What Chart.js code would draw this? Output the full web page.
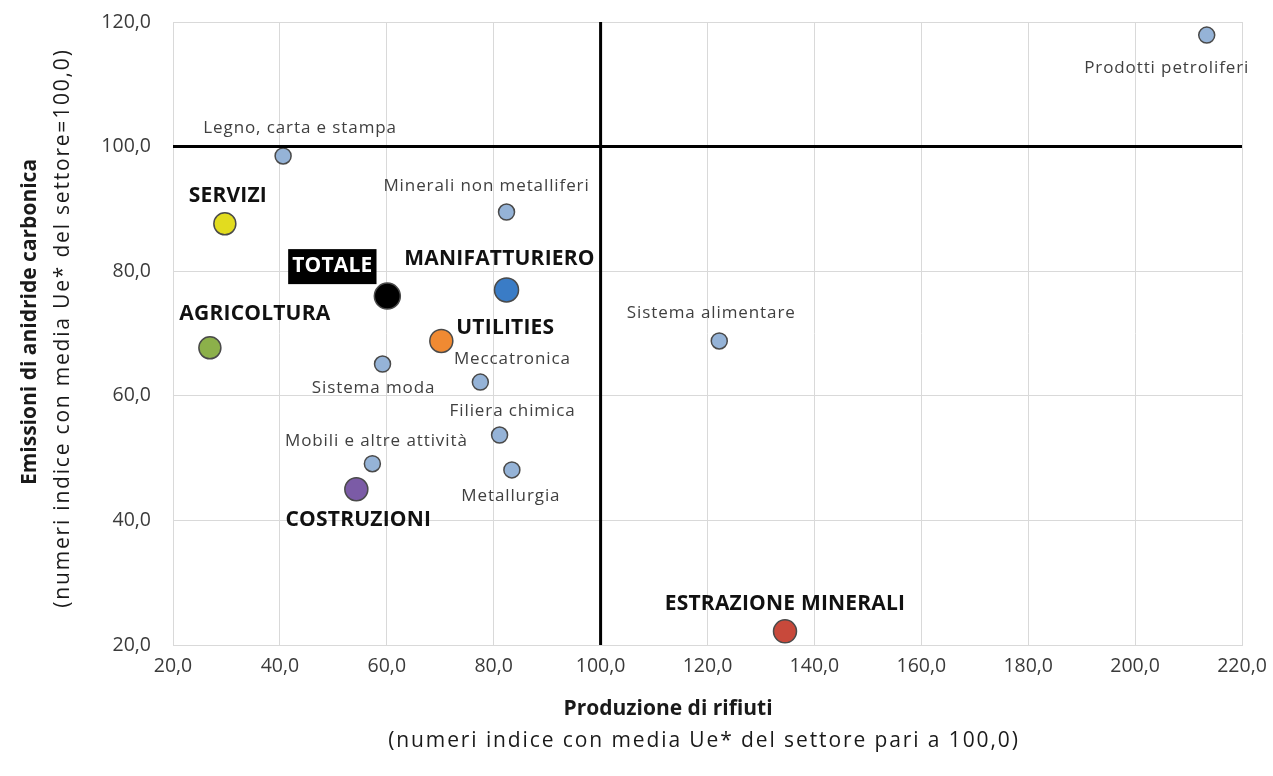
<!DOCTYPE html>
<html>
<head>
<meta charset="utf-8">
<script src="https://cdn.jsdelivr.net/npm/chart.js@4"></script>
<style>
  html, body { margin: 0; padding: 0; background: #ffffff; }
  #wrap { width: 1273px; height: 776px; }
</style>
</head>
<body>
<div id="wrap"><canvas id="c" width="1273" height="776"></canvas></div>
<script>
// ---- Data ----
const sectorNames = [
  "Prodotti petroliferi", "Legno, carta e stampa", "SERVIZI", "Minerali non metalliferi",
  "TOTALE", "MANIFATTURIERO", "AGRICOLTURA", "UTILITIES", "Sistema moda", "Meccatronica",
  "Sistema alimentare", "Filiera chimica", "Mobili e altre attività", "Metallurgia",
  "COSTRUZIONI", "ESTRAZIONE MINERALI"
];
const wasteIndex = [213.4, 40.6, 29.7, 82.4, 60.1, 82.4, 26.9, 70.2, 59.2, 77.5, 122.2, 81.1, 57.3, 83.4, 54.3, 134.5];
const emissionsIndex = [117.9, 98.5, 87.6, 89.5, 76.0, 77.0, 67.7, 68.8, 65.1, 62.2, 68.8, 53.7, 49.1, 48.1, 45.0, 22.2];
const isMacroSector = [false, false, true, false, true, true, true, true, false, false, false, false, false, false, true, true];
const axisTicks = [20, 40, 60, 80, 100, 120, 140, 160, 180, 200, 220];
const referenceValue = 100;

// ---- Styles ----
const FONT = '"Open Sans", "Noto Sans", sans-serif';
const pointColors = ["#95b3d7", "#95b3d7", "#e2dc1f", "#95b3d7", "#000000", "#3a7cc6", "#8cb04a", "#f08a32",
  "#95b3d7", "#95b3d7", "#95b3d7", "#95b3d7", "#95b3d7", "#95b3d7", "#7b5ba6", "#c8493b"];
const pointRadii = [8, 8, 11, 8, 13, 12, 11, 11.5, 8, 8, 8, 8, 8, 8, 11.5, 11.5];
const labelOffsets = [[-40,33],[17,-28],[3,-28],[-20,-26],[-55,-30],[-7,-31],[45,-34],[64,-13],
  [-9,24],[32,-23],[-8,-28],[13,-24],[4,-23],[-1,26],[2,31],[0,-27]];

const fmt = v => Number(v).toFixed(1).replace('.', ',');

const labelPlugin = {
  id: 'pointLabels',
  afterDatasetsDraw(chart) {
    const ctx = chart.ctx;
    const xs = chart.scales.x, ys = chart.scales.y;
    ctx.save();
    ctx.textAlign = 'center';
    ctx.textBaseline = 'middle';
    sectorNames.forEach((name, i) => {
      const px = xs.getPixelForValue(wasteIndex[i]) + labelOffsets[i][0];
      const py = ys.getPixelForValue(emissionsIndex[i]) + labelOffsets[i][1];
      if (isMacroSector[i]) {
        ctx.font = 'bold 21px ' + FONT;
        try { ctx.letterSpacing = '0.2px'; } catch (e) {}
        if (name === 'TOTALE') {
          const w = ctx.measureText(name).width;
          ctx.fillStyle = '#000';
          ctx.fillRect(px - w/2 - 4, py - 17, w + 8, 35);
          ctx.fillStyle = '#fff';
        } else {
          ctx.fillStyle = '#111';
        }
      } else {
        ctx.font = '17px ' + FONT;
        try { ctx.letterSpacing = '0.9px'; } catch (e) {}
        ctx.fillStyle = '#404040';
      }
      ctx.fillText(name, px, py);
    });
    ctx.restore();
  }
};

const titlePlugin = {
  id: 'axisTitles',
  afterDraw(chart) {
    const ctx = chart.ctx;
    ctx.save();
    ctx.fillStyle = '#1a1a1a';
    ctx.textAlign = 'center';
    ctx.textBaseline = 'middle';
    ctx.font = 'bold 21px ' + FONT;
    ctx.fillText('Produzione di rifiuti', 668, 709);
    ctx.font = '21px ' + FONT;
    try { ctx.letterSpacing = '1.9px'; } catch (e) {}
    ctx.fillText('(numeri indice con media Ue* del settore pari a 100,0)', 704, 741);
    try { ctx.letterSpacing = '0px'; } catch (e) {}
    ctx.translate(30, 322);
    ctx.rotate(-Math.PI/2);
    ctx.font = 'bold 21px ' + FONT;
    ctx.fillText('Emissioni di anidride carbonica', 0, 0);
    ctx.font = '21px ' + FONT;
    try { ctx.letterSpacing = '1.8px'; } catch (e) {}
    ctx.fillText('(numeri indice con media Ue* del settore=100,0)', -6, 33);
    ctx.restore();
  }
};

const points = wasteIndex.map((x, i) => ({ x, y: emissionsIndex[i] }));

new Chart(document.getElementById('c'), {
  type: 'scatter',
  data: {
    datasets: [
      {
        label: 'ref-x',
        data: [{ x: referenceValue, y: 20 }, { x: referenceValue, y: 120 }],
        showLine: true, borderColor: '#000', borderWidth: 3, pointRadius: 0
      },
      {
        label: 'ref-y',
        data: [{ x: 20, y: referenceValue }, { x: 220, y: referenceValue }],
        showLine: true, borderColor: '#000', borderWidth: 3, pointRadius: 0
      },
      {
        label: 'Settori',
        data: points,
        backgroundColor: pointColors,
        borderColor: '#4a4a4a',
        borderWidth: 1.5,
        pointRadius: pointRadii,
        pointHoverRadius: pointRadii
      }
    ]
  },
  options: {
    responsive: false,
    animation: false,
    layout: { padding: { left: 80, right: 31, top: 22, bottom: 0 } },
    plugins: { legend: { display: false }, tooltip: { enabled: false } },
    scales: {
      x: {
        type: 'linear', min: 20, max: 220,
        afterBuildTicks: s => { s.ticks = axisTicks.map(v => ({ value: v })); },
        afterFit: s => { s.height = 131; s.paddingLeft = 0; s.paddingRight = 0; },
        grid: { color: '#d9d9d9', lineWidth: 1, drawTicks: false },
        border: { display: true, color: '#d9d9d9' },
        ticks: { callback: v => fmt(v), color: '#3a3a3a', font: { size: 19.5, family: FONT }, padding: 10, maxRotation: 0 }
      },
      y: {
        type: 'linear', min: 20, max: 120,
        afterBuildTicks: s => { s.ticks = axisTicks.filter(v => v <= 120).map(v => ({ value: v })); },
        afterFit: s => { s.width = 93; s.paddingTop = 0; s.paddingBottom = 0; },
        grid: { color: '#d9d9d9', lineWidth: 1, drawTicks: false },
        border: { display: true, color: '#d9d9d9' },
        ticks: { callback: v => fmt(v), color: '#3a3a3a', font: { size: 19.5, family: FONT }, padding: 22 }
      }
    }
  },
  plugins: [labelPlugin, titlePlugin]
});
</script>
</body>
</html>
